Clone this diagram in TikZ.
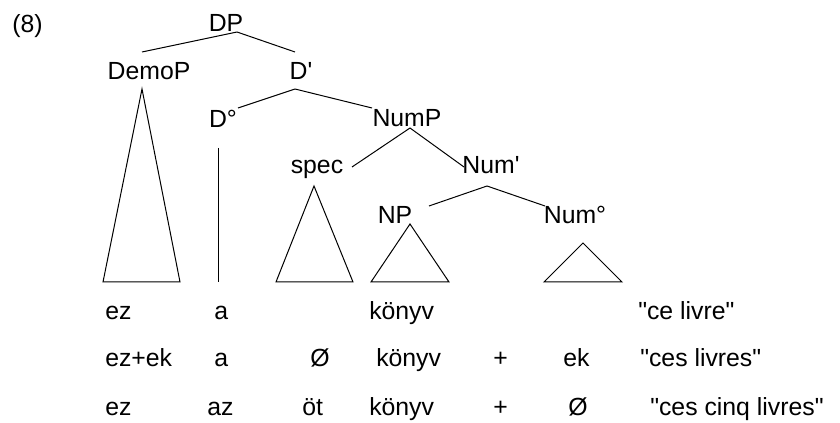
\documentclass[tikz,border=0pt]{standalone}
\usepackage{fontspec}
\setmainfont{Liberation Sans}
\begin{document}
\begin{tikzpicture}[x=0.75pt,y=-0.75pt,
  lbl/.style={inner sep=0pt,anchor=base,font=\fontsize{18.6}{22}\selectfont},
  wd/.style={inner sep=0pt,anchor=base west,font=\fontsize{18.6}{22}\selectfont},
  br/.style={line width=0.75pt,line join=miter}]
\useasboundingbox (0,0) rectangle (840,423);
% labels
\node[wd] (ex) at (12,33) {(8)};
\node[lbl] (DP) at (226,32) {DP};
\node[lbl] (DemoP) at (149,80) {DemoP};
\node[lbl] (Dbar) at (301,80) {D\textquotesingle};
\node[lbl] (Dzero) at (223,128) {D°};
\node[lbl] (NumP) at (407,127) {NumP};
\node[lbl] (spec) at (317,174) {spec};
\node[lbl] (Numbar) at (491,174) {Num\textquotesingle};
\node[lbl] (NP) at (395,224) {NP};
\node[lbl] (Numzero) at (575,224) {Num°};
% branches
\draw[br] ([shift={(11,0)}]DP.base) -- ([shift={(-7,-28)}]DemoP.base);
\draw[br] ([shift={(11,0)}]DP.base) -- ([shift={(-6,-28)}]Dbar.base);
\draw[br] ([shift={(-6,9)}]Dbar.base) -- ([shift={(15,-20)}]Dzero.base);
\draw[br] ([shift={(-6,9)}]Dbar.base) -- ([shift={(-35,-19)}]NumP.base);
\draw[br] ([shift={(3,1)}]NumP.base) -- ([shift={(35,-7)}]spec.base);
\draw[br] ([shift={(3,1)}]NumP.base) -- ([shift={(-27,-7)}]Numbar.base);
\draw[br] ([shift={(-4,12)}]Numbar.base) -- ([shift={(34,-18)}]NP.base);
\draw[br] ([shift={(-4,12)}]Numbar.base) -- ([shift={(-30,-18)}]Numzero.base);
% triangles and line
\draw[br] ([shift={(-7,9)}]DemoP.base) -- (103,282) -- (180,282) -- cycle;
\draw[br] ([shift={(-5,20)}]Dzero.base) -- ([shift={(-5,154)}]Dzero.base);
\draw[br] ([shift={(-3,12)}]spec.base) -- (276,282) -- (353,282) -- cycle;
\draw[br] ([shift={(15,0)}]NP.base) -- (371,282) -- (449,282) -- cycle;
\draw[br] ([shift={(8,19)}]Numzero.base) -- (544,282) -- (622,282) -- cycle;
% row 1
\node[wd] (r1a) at (105,320) {ez};
\node[wd] (r1b) at (214,320) {a};
\node[wd] (r1d) at (369,320) {könyv};
\node[wd] (r1g) at (638,320) {\textquotedbl ce livre\textquotedbl};
% row 2
\node[wd] (r2a) at (105,367) {ez+ek};
\node[wd] (r2b) at (214,367) {a};
\node[wd] (r2c) at (310,367) {Ø};
\node[wd] (r2d) at (376,367) {könyv};
\node[wd] (r2e) at (493,367) {+};
\node[wd] (r2f) at (563,367) {ek};
\node[wd] (r2g) at (640,367) {\textquotedbl ces livres\textquotedbl};
% row 3
\node[wd] (r3a) at (105,416) {ez};
\node[wd] (r3b) at (207,416) {az};
\node[wd] (r3c) at (302,416) {öt};
\node[wd] (r3d) at (369,416) {könyv};
\node[wd] (r3e) at (493,416) {+};
\node[wd] (r3f) at (568,416) {Ø};
\node[wd] (r3g) at (650,416) {\textquotedbl ces cinq livres\textquotedbl};
\end{tikzpicture}
\end{document}
